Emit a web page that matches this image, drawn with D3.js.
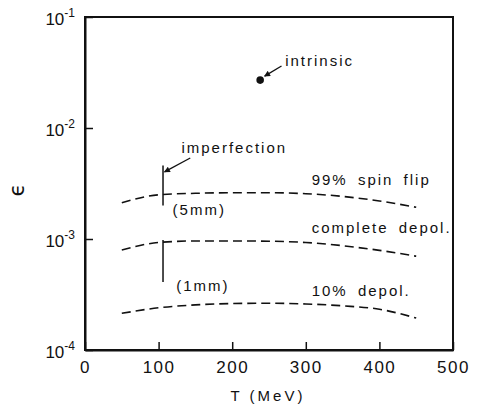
<!DOCTYPE html>
<html>
<head>
<meta charset="utf-8">
<script src="https://cdn.jsdelivr.net/npm/d3@7"></script>
<style>
  body { margin: 0; background: #fff; }
  svg { display: block; background: #fff; }
  text { font-family: "Liberation Sans", Arial, sans-serif; fill: #111; }
</style>
</head>
<body>
<div id="chart"></div>
<script>
// T (MeV) sample points
const tValues = [50, 100, 150, 200, 250, 300, 350, 400, 450];
const spinFlip99 = [2.12e-3, 2.5e-3, 2.58e-3, 2.61e-3, 2.61e-3, 2.56e-3, 2.42e-3, 2.2e-3, 1.93e-3];
const completeDepol = [7.96e-4, 9.3e-4, 9.6e-4, 9.6e-4, 9.55e-4, 9.3e-4, 8.7e-4, 7.9e-4, 7.0e-4];
const depol10 = [2.14e-4, 2.4e-4, 2.55e-4, 2.62e-4, 2.64e-4, 2.6e-4, 2.5e-4, 2.33e-4, 1.94e-4];

// intrinsic point [T, eps]
const intrinsicPoint = [238, 0.027];
// imperfection bars at T = 106 : [low, high]
const imperfectionT = 106;
const imperfection5mm = [2.0e-3, 4.6e-3];
const imperfection1mm = [4.1e-4, 9.8e-4];

const xTicks = [0, 100, 200, 300, 400, 500];
const yTicks = [1e-4, 1e-3, 1e-2, 1e-1];
const yExponents = ['-4', '-3', '-2', '-1'];

const width = 479, height = 407;
const margin = { top: 17, right: 26, bottom: 57, left: 85 };

const svg = d3.select('#chart').append('svg')
    .attr('width', width)
    .attr('height', height);

const x = d3.scaleLinear()
    .domain([0, 500])
    .range([margin.left, width - margin.right]);
const y = d3.scaleLog()
    .domain([1e-4, 1e-1])
    .range([height - margin.bottom, margin.top]);

// box
svg.append('rect')
    .attr('x', x(0))
    .attr('y', y(1e-1))
    .attr('width', x(500) - x(0))
    .attr('height', y(1e-4) - y(1e-1))
    .style('fill', 'none')
    .style('stroke', '#111')
    .style('stroke-width', 2);

// x axis
const xAxis = svg.append('g')
    .attr('transform', `translate(0,${y(1e-4)})`)
    .call(d3.axisBottom(x).tickValues(xTicks).tickSizeInner(-8).tickSizeOuter(0).tickPadding(8));
xAxis.select('.domain').style('stroke', '#111').style('stroke-width', 2);
xAxis.selectAll('.tick line').style('stroke', '#111').style('stroke-width', 1.5);
xAxis.selectAll('.tick text')
    .style('font-size', '17px')
    .style('letter-spacing', '1.5px')
    .attr('dy', '0.9em');

// y axis
const yAxis = svg.append('g')
    .attr('transform', `translate(${x(0)},0)`)
    .call(d3.axisLeft(y).tickValues(yTicks).tickSizeInner(-8).tickSizeOuter(0).tickPadding(10).tickFormat(() => ''));
yAxis.select('.domain').style('stroke', '#111').style('stroke-width', 2);
yAxis.selectAll('.tick line').style('stroke', '#111').style('stroke-width', 1.5);
yAxis.selectAll('.tick text').each(function (d, i) {
    const t = d3.select(this)
        .style('font-size', '17px')
        .attr('dy', '0.42em');
    t.append('tspan').text('10');
    t.append('tspan')
        .attr('dy', '-0.6em')
        .style('font-size', '12px')
        .text(yExponents[i]);
});

// dashed curves
const line = d3.line()
    .curve(d3.curveMonotoneX)
    .x((d, i) => x(tValues[i]))
    .y(d => y(d));

[spinFlip99, completeDepol, depol10].forEach(series => {
    svg.append('path')
        .datum(series)
        .attr('d', line)
        .style('fill', 'none')
        .style('stroke', '#111')
        .style('stroke-width', 1.6)
        .style('stroke-dasharray', '9,5');
});

// imperfection bars
[imperfection5mm, imperfection1mm].forEach(r => {
    svg.append('line')
        .attr('x1', x(imperfectionT))
        .attr('x2', x(imperfectionT))
        .attr('y1', y(r[0]))
        .attr('y2', y(r[1]))
        .style('stroke', '#111')
        .style('stroke-width', 1.5);
});

// intrinsic point
svg.append('circle')
    .attr('cx', x(intrinsicPoint[0]))
    .attr('cy', y(intrinsicPoint[1]))
    .attr('r', 3.8)
    .style('fill', '#111');

// arrows
svg.append('defs').append('marker')
    .attr('id', 'arrow')
    .attr('viewBox', '0 0 10 10')
    .attr('refX', 9)
    .attr('refY', 5)
    .attr('markerWidth', 9)
    .attr('markerHeight', 6)
    .attr('markerUnits', 'userSpaceOnUse')
    .attr('orient', 'auto')
    .append('path')
    .attr('d', 'M0,0 L10,5 L0,10 z')
    .style('fill', '#111');

const arrows = [
    { from: [267, 0.0362], to: [244, 0.0293] },
    { from: [143, 5.37e-3], to: [108, 4.02e-3] }
];
arrows.forEach(a => {
    svg.append('line')
        .attr('x1', x(a.from[0]))
        .attr('y1', y(a.from[1]))
        .attr('x2', x(a.to[0]))
        .attr('y2', y(a.to[1]))
        .style('stroke', '#111')
        .style('stroke-width', 1.3)
        .attr('marker-end', 'url(#arrow)');
});

// labels
const labels = [
    { text: 'intrinsic', t: 272, eps: 0.036 },
    { text: 'imperfection', t: 131, eps: 5.96e-3 },
    { text: '99% spin flip', t: 308, eps: 3.06e-3 },
    { text: '(5mm)', t: 119, eps: 1.64e-3 },
    { text: 'complete depol.', t: 308, eps: 1.13e-3 },
    { text: '(1mm)', t: 124, eps: 3.4e-4 },
    { text: '10% depol.', t: 308, eps: 3.06e-4 }
];
svg.selectAll('text.label')
    .data(labels)
    .enter()
    .append('text')
    .attr('class', 'label')
    .attr('x', d => x(d.t))
    .attr('y', d => y(d.eps))
    .style('font-size', '15px')
    .style('letter-spacing', '2px')
    .style('word-spacing', '4px')
    .text(d => d.text);

// axis titles
svg.append('text')
    .attr('x', 268)
    .attr('y', 401)
    .attr('text-anchor', 'middle')
    .style('font-size', '15px')
    .style('letter-spacing', '3px')
    .text('T (MeV)');

svg.append('text')
    .attr('transform', 'translate(24,190) rotate(-90)')
    .attr('text-anchor', 'middle')
    .style('font-family', '"DejaVu Sans", sans-serif')
    .style('font-size', '21px')
    .text('ϵ');
</script>
</body>
</html>
